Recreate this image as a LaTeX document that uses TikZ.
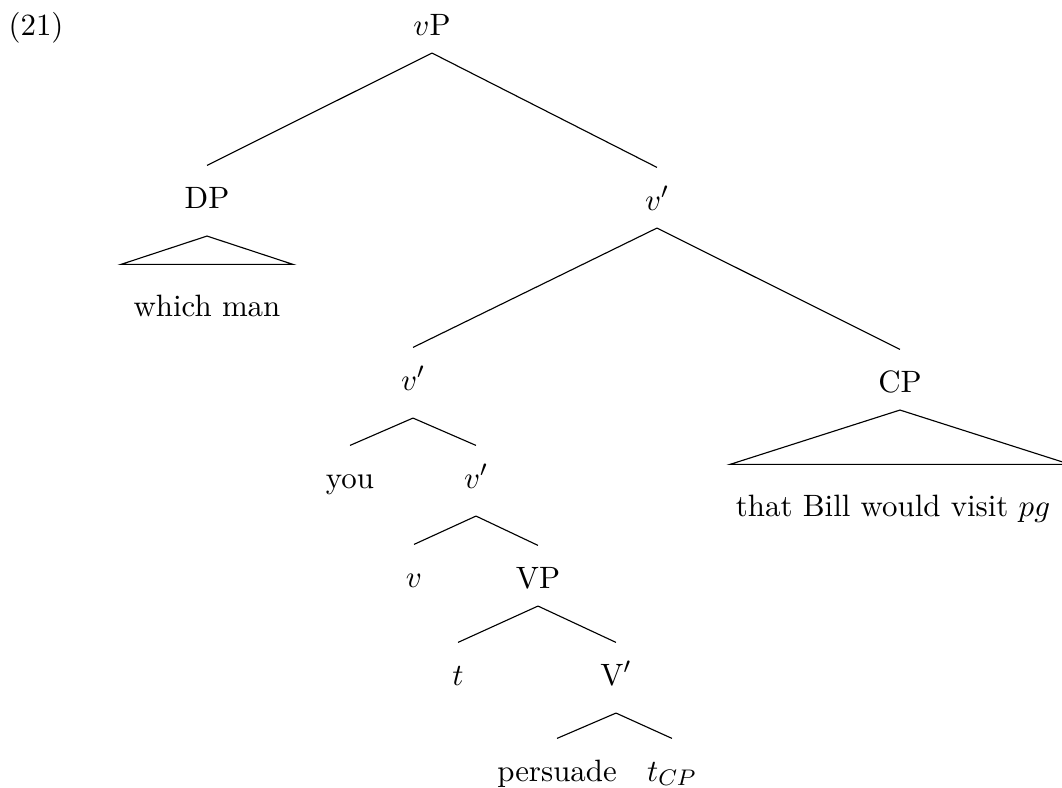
\documentclass[tikz,border=0pt]{standalone}
\begin{document}
\begin{tikzpicture}[x=0.3546pt,y=-0.3546pt,
  lbl/.style={inner xsep=0pt, inner ysep=5.9pt, text height=9pt, text depth=0.3pt, anchor=base, font=\fontsize{10.95}{13.6}\selectfont},
  deep/.style={text depth=3.85pt},
  trileaf/.style={lbl, inner ysep=9.1pt},
  branch/.style={line width=0.4pt}]
\useasboundingbox (0,0) rectangle (1062,788);
\node[lbl] (ex) at (36,35) {(21)};
\node[lbl] (vP) at (432,35) {$v$P};
\node[lbl,deep] (DP) at (207,208) {DP};
\node[trileaf] (wm) at (207,316) {which man};
\node[lbl] (v1) at (657,210) {$v'$};
\node[lbl,deep] (v2) at (413,390) {$v'$};
\node[lbl] (CP) at (900,392) {CP};
\node[trileaf] (tb) at (893,516) {that Bill would visit $pg$};
\node[lbl] (you) at (350,488) {you};
\node[lbl,deep] (v3) at (476,488) {$v'$};
\node[lbl] (v) at (414,587) {$v$};
\node[lbl] (VP) at (538,588) {VP};
\node[lbl] (t) at (458,685) {$t$};
\node[lbl,deep] (Vb) at (616,685) {V$'$};
\node[lbl] (pers) at (557,781) {persuade};
\node[lbl] (tcp) at (672,781) {$t_{CP}$};
\draw[branch] (vP.south) -- (DP.north);
\draw[branch] (vP.south) -- (v1.north);
\draw[branch] (v1.south) -- (v2.north);
\draw[branch] (v1.south) -- (CP.north);
\draw[branch] (v2.south) -- (you.north);
\draw[branch] (v2.south) -- (v3.north);
\draw[branch] (v3.south) -- (v.north);
\draw[branch] (v3.south) -- (VP.north);
\draw[branch] (VP.south) -- (t.north);
\draw[branch] (VP.south) -- (Vb.north);
\draw[branch] (Vb.south) -- (pers.north);
\draw[branch] (Vb.south) -- (tcp.north);
\draw[branch] (DP.south) -- ([xshift=-30.5pt]wm.north) -- ([xshift=30.5pt]wm.north) -- cycle;
\draw[branch] (CP.south) -- ([xshift=-57.8pt]tb.north) -- ([xshift=62.8pt]tb.north) -- cycle;
\end{tikzpicture}
\end{document}
